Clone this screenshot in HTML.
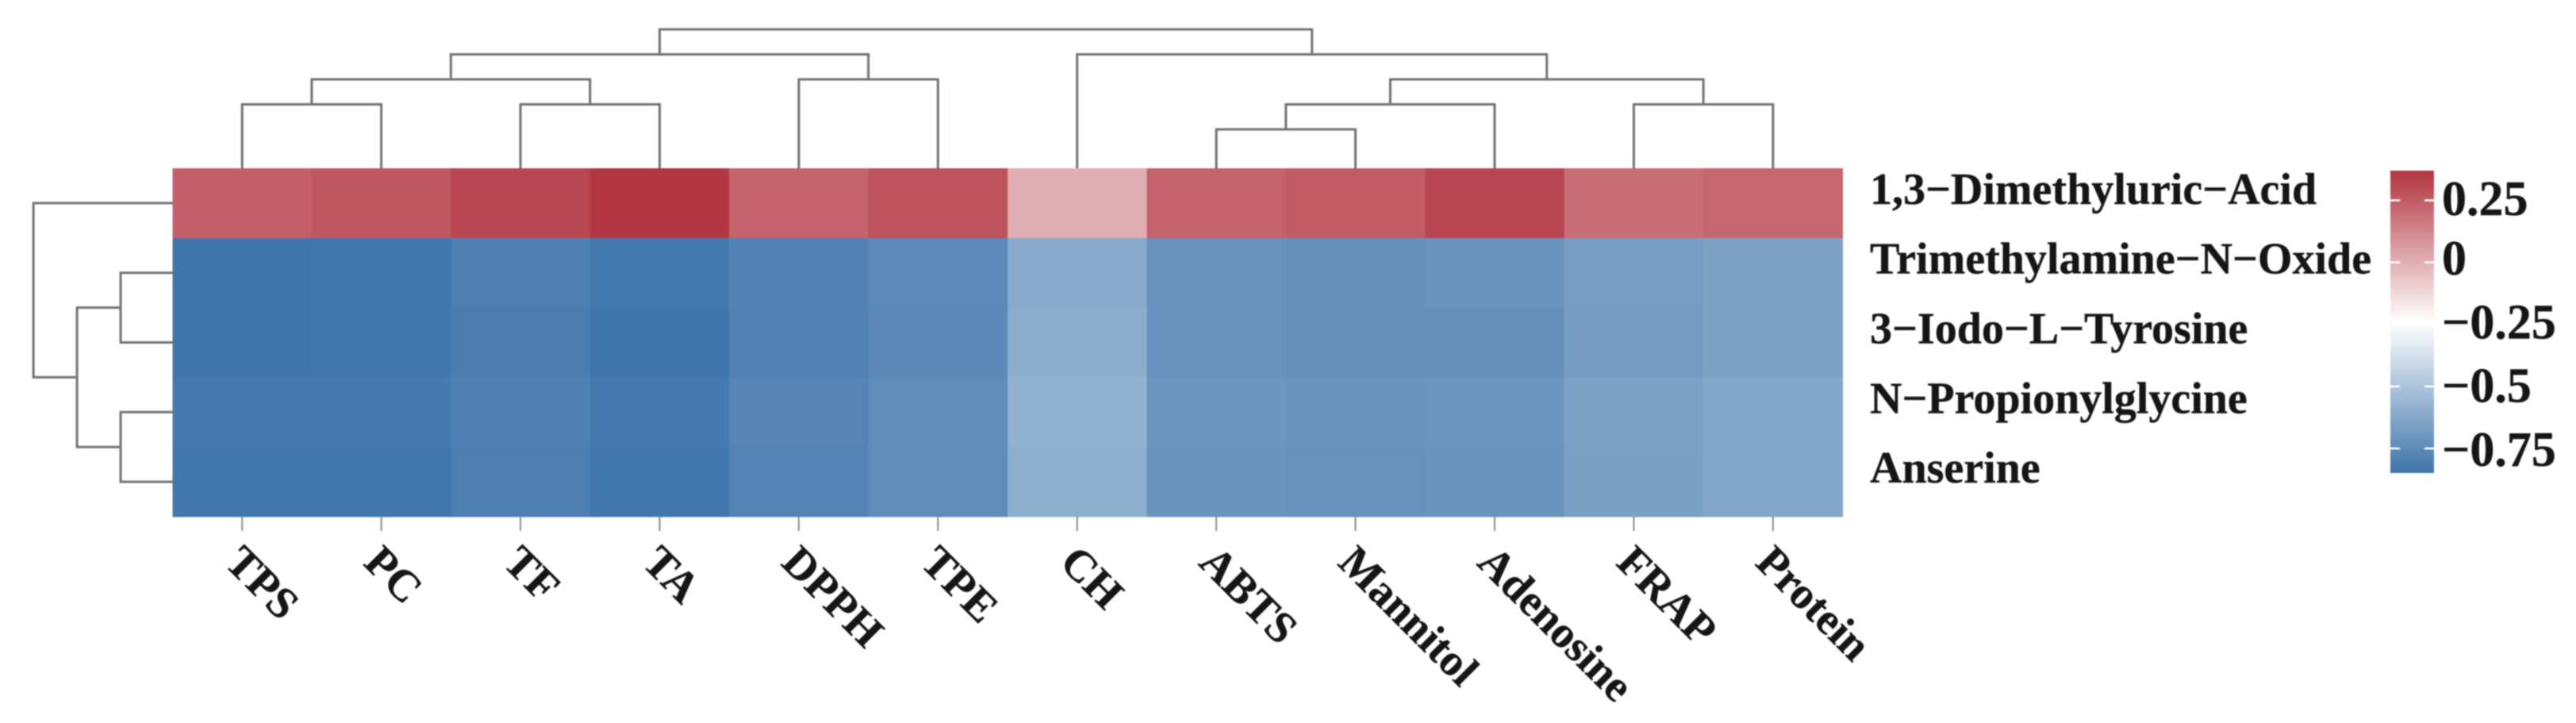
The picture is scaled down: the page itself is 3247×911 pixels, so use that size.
<!DOCTYPE html>
<html lang="en">
<head>
<meta charset="utf-8">
<title>Clustered correlation heatmap</title>
<style>
  html, body { margin: 0; padding: 0; background: #ffffff; }
  body { width: 3247px; height: 911px; overflow: hidden; }
  svg { display: block; filter: blur(0.7px); }
  text { font-family: "Liberation Serif", serif; font-weight: bold; fill: #151515; stroke: #151515; stroke-width: 0.4px; }
</style>
</head>
<body>
<svg id="chart" xmlns="http://www.w3.org/2000/svg" width="3247" height="911" viewBox="0 0 3247 911">
  <defs>
    <linearGradient id="cbar-gradient" x1="0" y1="0" x2="0" y2="1"></linearGradient>
  </defs>
  <rect x="0" y="0" width="3247" height="911" fill="#ffffff"></rect>
  <g id="heatmap"></g>
  <g id="col-tree"></g>
  <g id="row-tree"></g>
  <g id="x-axis"></g>
  <g id="y-axis"></g>
  <g id="colorbar"></g>
</svg>
<script>
const columns = ["TPS", "PC", "TF", "TA", "DPPH", "TPE", "CH", "ABTS", "Mannitol", "Adenosine", "FRAP", "Protein"];
const rows = ["1,3\u2212Dimethyluric\u2212Acid", "Trimethylamine\u2212N\u2212Oxide", "3\u2212Iodo\u2212L\u2212Tyrosine", "N\u2212Propionylglycine", "Anserine"];

const valuesDimethyluric = [0.238, 0.266, 0.315, 0.36, 0.229, 0.28, 0.002, 0.23, 0.253, 0.315, 0.198, 0.217];
const valuesTrimethylamine = [-0.844, -0.837, -0.799, -0.833, -0.787, -0.755, -0.616, -0.717, -0.73, -0.711, -0.67, -0.648];
const valuesIodoTyrosine = [-0.844, -0.837, -0.812, -0.844, -0.787, -0.76, -0.6, -0.717, -0.73, -0.73, -0.675, -0.648];
const valuesPropionylglycine = [-0.825, -0.82, -0.795, -0.825, -0.777, -0.745, -0.581, -0.705, -0.711, -0.705, -0.654, -0.629];
const valuesAnserine = [-0.837, -0.837, -0.803, -0.837, -0.78, -0.745, -0.597, -0.711, -0.717, -0.711, -0.657, -0.629];
const matrix = [valuesDimethyluric, valuesTrimethylamine, valuesIodoTyrosine, valuesPropionylglycine, valuesAnserine];

/* hclust-style merges: negative = leaf (1-based), positive = earlier merge, last = height */
const colMerges = [[-1, -2, 2.3], [-3, -4, 2.3], [1, 2, 3.2], [-5, -6, 3.2], [3, 4, 4.1], [-8, -9, 1.4], [6, -10, 2.3], [-11, -12, 2.3], [7, 8, 3.2], [-7, 9, 4.1], [5, 10, 5.0]];
const rowMerges = [[-2, -3, 1.87], [-4, -5, 1.87], [1, 2, 3.44], [-1, 3, 5.01]];

const colorbarTicks = [0.25, 0, -0.25, -0.5, -0.75];
const colorbarTickLabels = ["0.25", "0", "\u22120.25", "\u22120.5", "\u22120.75"];
const colorbarDomain = [-0.849, 0.37];
const colorbarMid = -0.24;

const NS = "http://www.w3.org/2000/svg";
const plot = { left: 217.5, right: 2322.5, top: 212, bottom: 651 };
const cellW = (plot.right - plot.left) / columns.length;
const cellH = (plot.bottom - plot.top) / rows.length;
const treeUnit = 35;
const cbar = { left: 3013, right: 3068, top: 215, bottom: 596 };

function xScale(i) { return plot.left + cellW * i; }
function yScale(i) { return plot.top + cellH * i; }
function colTreeY(h) { return plot.top - h * treeUnit; }
function rowTreeX(h) { return plot.left - h * treeUnit; }
function cbarY(v) {
  const f = (v - colorbarDomain[0]) / (colorbarDomain[1] - colorbarDomain[0]);
  return cbar.bottom - f * (cbar.bottom - cbar.top);
}
function cbarLabelY(v) { return v > 0 ? 346 - v * 300 : 346 - v * 321; }
function colorOf(v) {
  const low = [62, 116, 171], mid = [255, 255, 255], high = [178, 52, 63];
  let a, b, t;
  if (v < colorbarMid) {
    a = mid; b = low;
    t = (colorbarMid - v) / (colorbarMid - colorbarDomain[0]);
  } else {
    a = mid; b = high;
    t = (v - colorbarMid) / (colorbarDomain[1] - colorbarMid);
  }
  t = Math.max(0, Math.min(1, t));
  const c = a.map((x, k) => Math.round(x + (b[k] - x) * t));
  return "rgb(" + c.join(",") + ")";
}
function make(tag, attrs, parent) {
  const el = document.createElementNS(NS, tag);
  for (const k in attrs) el.setAttribute(k, attrs[k]);
  parent.appendChild(el);
  return el;
}

/* heatmap cells */
const heatmapG = document.getElementById("heatmap");
matrix.forEach((row, r) => {
  row.forEach((v, c) => {
    const el = make("rect", {
      x: xScale(c), y: yScale(r), width: cellW + 0.5, height: cellH + 0.5,
      fill: colorOf(v), "shape-rendering": "crispEdges"
    }, heatmapG);
    
    
  });
});

/* dendrograms */
function drawTree(merges, parent, leafPos, heightPos, horizontalTop) {
  const nodes = [];
  function locate(id) {
    if (id < 0) return { p: leafPos(-id - 1), h: 0 };
    return nodes[id - 1];
  }
  merges.forEach((m) => {
    const a = locate(m[0]);
    const b = locate(m[1]);
    const h = m[2];
    const hp = heightPos(h);
    const d = horizontalTop
      ? "M" + a.p + " " + heightPos(a.h) + "V" + hp + "H" + b.p + "V" + heightPos(b.h)
      : "M" + heightPos(a.h) + " " + a.p + "H" + hp + "V" + b.p + "H" + heightPos(b.h);
    const el = make("path", { d: d, fill: "none", stroke: "#717276", "stroke-width": 3 }, parent);
    
    
    nodes.push({ p: (a.p + b.p) / 2, h: h });
  });
}
drawTree(colMerges, document.getElementById("col-tree"), (i) => xScale(i + 0.5), colTreeY, true);
drawTree(rowMerges, document.getElementById("row-tree"), (i) => yScale(i + 0.5), rowTreeX, false);

/* x axis */
const xAxisG = document.getElementById("x-axis");
columns.forEach((name, i) => {
  const cx = xScale(i + 0.5);
  const tick = make("line", { x1: cx, x2: cx, y1: plot.bottom, y2: plot.bottom + 18, stroke: "#8a8a8a", "stroke-width": 2 }, xAxisG);
  
  
  const ax = cx - 24;
  const ay = 711;
  const label = make("text", { x: ax, y: ay, "font-size": 56, transform: "rotate(45 " + ax + " " + ay + ")" }, xAxisG);
  label.textContent = name;
  
  
});

/* row labels */
const yAxisG = document.getElementById("y-axis");
rows.forEach((name, i) => {
  const label = make("text", { x: 2357, y: yScale(i + 0.5) + 1, "font-size": 56 }, yAxisG);
  label.textContent = name;
  
  
});

/* colorbar */
const grad = document.getElementById("cbar-gradient");
[colorbarDomain[1], colorbarMid, colorbarDomain[0]].forEach((v) => {
  const offset = (cbarY(v) - cbar.top) / (cbar.bottom - cbar.top);
  make("stop", { offset: offset, "stop-color": colorOf(v) }, grad);
});
const cbarG = document.getElementById("colorbar");
const ramp = make("rect", {
  x: cbar.left, y: cbar.top, width: cbar.right - cbar.left, height: cbar.bottom - cbar.top,
  fill: "url(#cbar-gradient)"
}, cbarG);


colorbarTicks.forEach((v, i) => {
  const y = cbarY(v);
  const t1 = make("line", { x1: cbar.left, x2: cbar.left + 12, y1: y, y2: y, stroke: "#ffffff", "stroke-width": 2.5 }, cbarG);
  
  
  const t2 = make("line", { x1: cbar.right - 12, x2: cbar.right, y1: y, y2: y, stroke: "#ffffff", "stroke-width": 2.5 }, cbarG);
  
  
  const label = make("text", { x: 3078, y: cbarLabelY(v), "font-size": 62 }, cbarG);
  label.textContent = colorbarTickLabels[i];
  
  
});
</script>
</body>
</html>
